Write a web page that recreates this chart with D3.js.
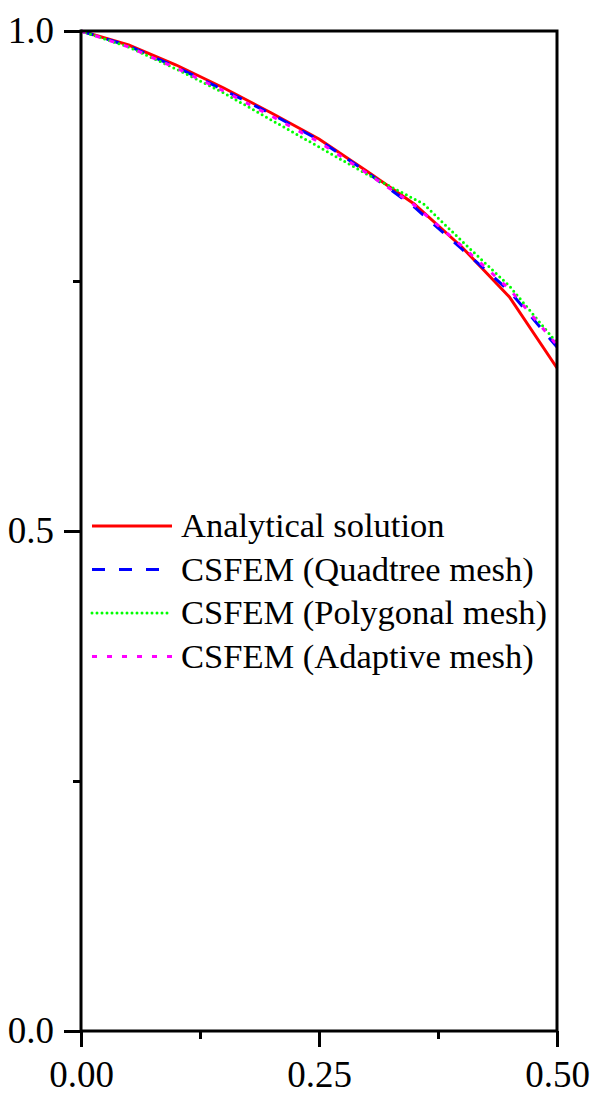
<!DOCTYPE html>
<html>
<head>
<meta charset="utf-8">
<script src="https://cdn.jsdelivr.net/npm/d3@7"></script>
<style>
  body { margin: 0; background: #fff; }
  svg { display: block; font-family: "Liberation Serif", "Times New Roman", serif; }
</style>
</head>
<body>
<svg id="chart"></svg>
<script>
"use strict";

var width = 598
  , height = 1115
  , margin = {top: 31, right: 41, bottom: 84, left: 81};

// data
var xs = [0, 0.05, 0.1, 0.15, 0.2, 0.25, 0.3, 0.35, 0.4, 0.45, 0.5];
var analytical = [1.0, 0.986, 0.966, 0.943, 0.918, 0.892, 0.860, 0.827, 0.784, 0.734, 0.663];
var quadX = [0, 0.05, 0.1, 0.15, 0.2, 0.25, 0.3, 0.35, 0.4, 0.45, 0.5];
var quadtree = [1.0, 0.985, 0.964, 0.941, 0.917, 0.891, 0.859, 0.824, 0.782, 0.740, 0.684];
var polyX = [0, 0.05, 0.1, 0.15, 0.2, 0.25, 0.3, 0.36, 0.4, 0.45, 0.5];
var polygonal = [1.0, 0.984, 0.962, 0.938, 0.911, 0.884, 0.857, 0.827, 0.790, 0.745, 0.688];
var adaptX = [0, 0.05, 0.1, 0.15, 0.2, 0.25, 0.3, 0.35, 0.4, 0.45, 0.5];
var adaptive = [1.0, 0.984, 0.963, 0.940, 0.915, 0.889, 0.858, 0.826, 0.785, 0.742, 0.686];

var seriesNames = ["Analytical solution", "CSFEM (Quadtree mesh)", "CSFEM (Polygonal mesh)", "CSFEM (Adaptive mesh)"];
var xMajor = [0, 0.25, 0.5], xMinor = [0.125, 0.375];
var yMajor = [0, 0.5, 1.0], yMinor = [0.25, 0.75];

var series = [
  {name: seriesNames[0], x: xs, y: analytical, color: "#ff0000", dash: null, cap: "butt"},
  {name: seriesNames[1], x: quadX, y: quadtree, color: "#0000ff", dash: "13,14", cap: "butt"},
  {name: seriesNames[2], x: polyX, y: polygonal, color: "#00ff00", dash: "0,5", cap: "round"},
  {name: seriesNames[3], x: adaptX, y: adaptive, color: "#ff00ff", dash: "5,10", cap: "butt"}
];

var svg = d3.select("#chart")
  .attr("width", width)
  .attr("height", height);

var x = d3.scaleLinear().domain([0, 0.5]).range([margin.left, width - margin.right]);
var y = d3.scaleLinear().domain([0, 1]).range([height - margin.bottom, margin.top]);

var line = d3.line()
  .x(function (d) { return x(d[0]); })
  .y(function (d) { return y(d[1]); });

// curves
series.forEach(function (s) {
  svg.append("path")
    .datum(d3.zip(s.x, s.y))
    .attr("fill", "none")
    .attr("stroke", s.color)
    .attr("stroke-width", 3)
    .attr("stroke-linecap", s.cap)
    .attr("stroke-dasharray", s.dash)
    .attr("d", line);
});

// frame
svg.append("rect")
  .attr("x", x(0))
  .attr("y", y(1))
  .attr("width", x(0.5) - x(0))
  .attr("height", y(0) - y(1))
  .attr("fill", "none")
  .attr("stroke", "#000")
  .attr("stroke-width", 3);

// axes
function styleAxis(g) {
  g.attr("font-family", null).attr("font-size", null);
  g.select(".domain").remove();
  g.selectAll(".tick line").attr("stroke", "#000").attr("stroke-width", 3);
  g.selectAll(".tick text").attr("fill", "#000").style("font-size", "37px");
}

svg.append("g")
  .attr("transform", "translate(0," + y(0) + ")")
  .call(d3.axisBottom(x).tickValues(xMajor).tickSize(16).tickPadding(14).tickFormat(d3.format(".2f")))
  .call(styleAxis);

svg.append("g")
  .attr("transform", "translate(0," + y(0) + ")")
  .call(d3.axisBottom(x).tickValues(xMinor).tickSize(8).tickFormat(""))
  .call(styleAxis);

svg.append("g")
  .attr("transform", "translate(" + x(0) + ",0)")
  .call(d3.axisLeft(y).tickValues(yMajor).tickSize(17).tickPadding(10).tickFormat(d3.format(".1f")))
  .call(styleAxis);

svg.append("g")
  .attr("transform", "translate(" + x(0) + ",0)")
  .call(d3.axisLeft(y).tickValues(yMinor).tickSize(8).tickFormat(""))
  .call(styleAxis);

// legend
var legend = svg.append("g")
  .attr("transform", "translate(92,526)");

var item = legend.selectAll("g")
  .data(series)
  .enter()
  .append("g")
  .attr("transform", function (d, i) { return "translate(0," + (i * 43.5) + ")"; });

item.append("line")
  .attr("x1", 0)
  .attr("x2", 80)
  .attr("stroke", function (d) { return d.color; })
  .attr("stroke-width", 3)
  .attr("stroke-linecap", function (d) { return d.cap; })
  .attr("stroke-dasharray", function (d) { return d.dash; });

item.append("text")
  .attr("x", 89)
  .attr("y", 11)
  .style("font-size", "34.5px")
  .attr("fill", "#000")
  .text(function (d) { return d.name; });
</script>
</body>
</html>
